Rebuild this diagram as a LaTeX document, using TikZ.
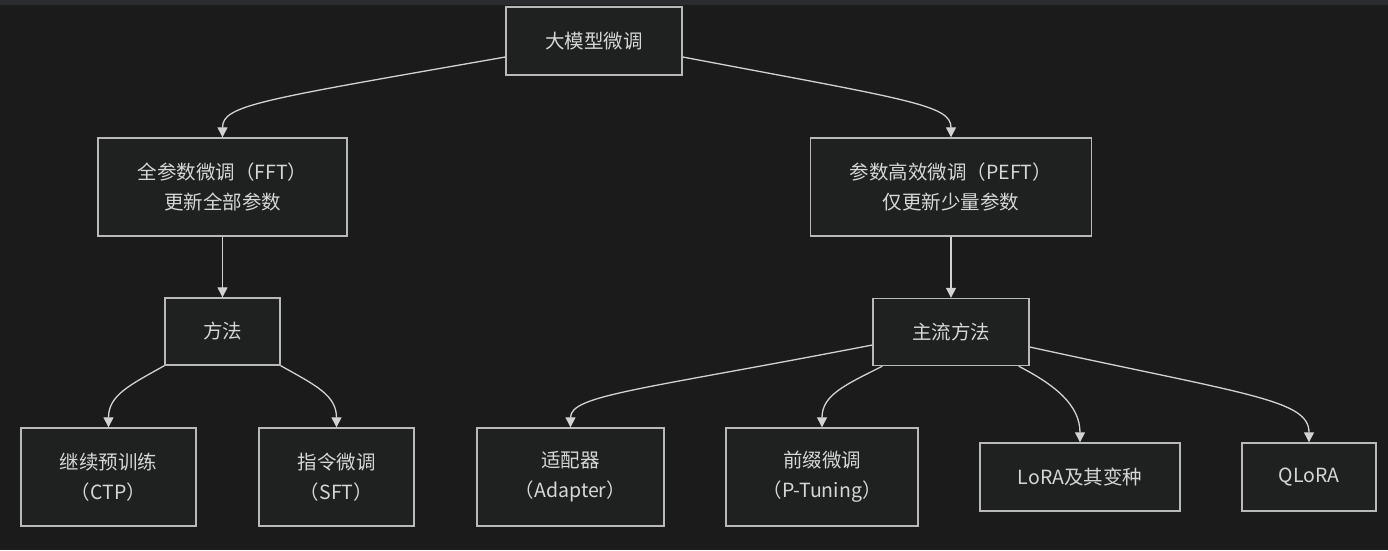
\documentclass[tikz,border=0pt]{standalone}
\usepackage{fontspec}
\setmainfont{Noto Sans CJK SC}
\usetikzlibrary{arrows.meta,calc}
\definecolor{bgc}{HTML}{1B1B1B}
\definecolor{stripc}{HTML}{2B2C2F}
\definecolor{boxfill}{HTML}{1F2121}
\definecolor{boxline}{HTML}{B9B9B9}
\definecolor{txtc}{HTML}{D6D6D6}
\definecolor{edgec}{HTML}{D2D2D2}
\begin{document}
\begin{tikzpicture}[x=1pt,y=-1pt,
  box/.style={draw=boxline,fill=boxfill,line width=1.4pt,inner sep=0pt,
    text=txtc,align=center,font=\fontsize{19.5pt}{30pt}\selectfont},
  edge/.style={draw=edgec,line width=1.3pt,-{Triangle[length=10pt,width=10pt]}}]
\fill[bgc] (0,0) rectangle (1388,550);
\fill[stripc] (0,0) rectangle (1388,5);
\useasboundingbox (0,0) rectangle (1388,550);

\node[box,minimum width=176pt,minimum height=68pt] (top) at (594,41) {大模型微调};
\node[box,minimum width=249pt,minimum height=98pt] (fft) at (222.5,187) {全参数微调（FFT）\\更新全部参数};
\node[box,minimum width=281pt,minimum height=98pt] (peft) at (951,187) {参数高效微调（PEFT）\\仅更新少量参数};
\node[box,minimum width=115pt,minimum height=67pt] (fa) at (222.5,331.5) {方法};
\node[box,minimum width=156pt,minimum height=67pt] (zl) at (951,332) {主流方法};
\node[box,minimum width=175pt,minimum height=98pt] (ctp) at (108.5,477) {继续预训练\\（CTP）};
\node[box,minimum width=155pt,minimum height=98pt] (sft) at (336.5,477) {指令微调\\（SFT）};
\node[box,minimum width=187pt,minimum height=98pt] (ad) at (570.5,477) {适配器\\（Adapter）};
\node[box,minimum width=192pt,minimum height=98pt] (pt) at (822,477) {前缀微调\\（P-Tuning）};
\node[box,minimum width=200pt,minimum height=68pt] (lora) at (1080,477) {LoRA及其变种};
\node[box,minimum width=134pt,minimum height=68pt] (ql) at (1309,477) {QLoRA};

\draw[edge] ([yshift=-16pt]top.west) .. controls (260,100) and (222.5,105) .. (fft.north);
\draw[edge] ([yshift=-16pt]top.east) .. controls (910,100) and (951,105) .. (peft.north);
\draw[edge] (fft) -- (fa);
\draw[edge] (peft) -- (zl);
\draw[edge] (fa.south west) .. controls (130,385) and (108.5,395) .. (ctp.north);
\draw[edge] (fa.south east) .. controls (315,385) and (336.5,395) .. (sft.north);
\draw[edge] ([yshift=-13pt]zl.west) .. controls (640,390) and (570.5,395) .. (ad.north);
\draw[edge] ([xshift=10pt]zl.south west) .. controls (845,385) and (822,395) .. (pt.north);
\draw[edge] ([xshift=-11pt]zl.south east) .. controls (1055,385) and (1080,405) .. (lora.north);
\draw[edge] ([yshift=-15pt]zl.east) .. controls (1250,395) and (1309,400) .. (ql.north);
\end{tikzpicture}
\end{document}
